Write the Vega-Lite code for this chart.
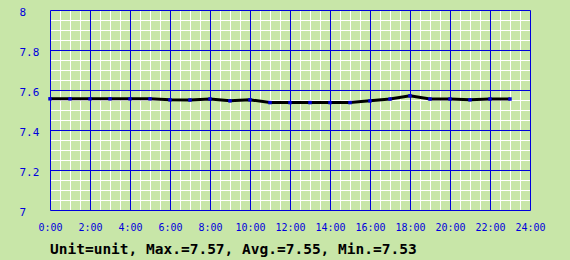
{
  "$schema": "https://vega.github.io/schema/vega-lite/v6.json",
  "width": 480,
  "height": 200,
  "autosize": {"type": "none"},
  "padding": {"left": 50, "top": 10, "right": 40, "bottom": 50},
  "background": "#c8e6a8",
  "config": {"view": {"stroke": null, "fill": "#c8e6a8"}},
  "title": {
    "text": "Unit=unit, Max.=7.57, Avg.=7.55, Min.=7.53",
    "orient": "bottom",
    "anchor": "start",
    "font": "DejaVu Sans Mono",
    "fontSize": 14.5,
    "fontWeight": "bold",
    "color": "#000000",
    "offset": 11,
    "frame": "group"
  },
  "data": {
    "values": [
      {"h": 0, "v": 7.556}, {"h": 1, "v": 7.556}, {"h": 2, "v": 7.556}, {"h": 3, "v": 7.556},
      {"h": 4, "v": 7.556}, {"h": 5, "v": 7.556}, {"h": 6, "v": 7.551}, {"h": 7, "v": 7.55},
      {"h": 8, "v": 7.555}, {"h": 9, "v": 7.546}, {"h": 10, "v": 7.551}, {"h": 11, "v": 7.537},
      {"h": 12, "v": 7.537}, {"h": 13, "v": 7.537}, {"h": 14, "v": 7.537}, {"h": 15, "v": 7.537},
      {"h": 16, "v": 7.546}, {"h": 17, "v": 7.555}, {"h": 18, "v": 7.571}, {"h": 19, "v": 7.555},
      {"h": 20, "v": 7.555}, {"h": 21, "v": 7.551}, {"h": 22, "v": 7.555}, {"h": 23, "v": 7.555}
    ]
  },
  "resolve": {"axis": {"x": "independent", "y": "independent"}},
  "layer": [
    {
      "mark": {"type": "line", "color": "#000000", "strokeWidth": 3, "interpolate": "linear"},
      "encoding": {
        "x": {"field": "h", "type": "quantitative", "scale": {"domain": [0, 24], "nice": false, "zero": false},
          "axis": {"orient": "bottom", "values": [0.5,1,1.5,2.5,3,3.5,4.5,5,5.5,6.5,7,7.5,8.5,9,9.5,10.5,11,11.5,12.5,13,13.5,14.5,15,15.5,16.5,17,17.5,18.5,19,19.5,20.5,21,21.5,22.5,23,23.5],
            "labels": false, "ticks": false, "domain": false, "title": null, "grid": true, "gridColor": "#ffffff", "gridOpacity": 1, "gridWidth": 1,
            "gridDash": [39, 1], "gridDashOffset": 39.5}},
        "y": {"field": "v", "type": "quantitative", "scale": {"domain": [7, 8], "nice": false, "zero": false},
          "axis": {"orient": "left", "values": [7.05,7.1,7.15,7.25,7.3,7.35,7.45,7.5,7.55,7.65,7.7,7.75,7.85,7.9,7.95],
            "labels": false, "ticks": false, "domain": false, "title": null, "grid": true, "gridColor": "#ffffff", "gridOpacity": 1, "gridWidth": 1,
            "gridDash": [39, 1], "gridDashOffset": 39.5}}
      }
    },
    {
      "mark": {"type": "point", "shape": "square", "filled": true, "size": 12, "color": "#0000dd", "opacity": 1},
      "encoding": {
        "x": {"field": "h", "type": "quantitative", "scale": {"domain": [0, 24], "nice": false, "zero": false},
          "axis": {"orient": "bottom", "values": [0,2,4,6,8,10,12,14,16,18,20,22,24],
            "labelExpr": "datum.value + ':00'", "labelFont": "DejaVu Sans Mono", "labelFontSize": 10, "labelColor": "#0000dd",
            "labelPadding": 12, "labelBaseline": "top", "labelFlush": false, "labelOverlap": false,
            "ticks": false, "domain": false, "title": null, "grid": true, "gridColor": "#0000dd", "gridOpacity": 1, "gridWidth": 1}},
        "y": {"field": "v", "type": "quantitative", "scale": {"domain": [7, 8], "nice": false, "zero": false},
          "axis": {"orient": "left", "values": [7,7.2,7.4,7.6,7.8,8],
            "labelExpr": "datum.value == 7 || datum.value == 8 ? format(datum.value, 'd') : format(datum.value, '.1f')",
            "labelFont": "DejaVu Sans Mono", "labelFontSize": 11, "labelColor": "#0000dd",
            "labelAlign": "left", "labelBaseline": "middle", "labelPadding": 31, "labelOffset": 2, "labelFlush": false, "labelOverlap": false,
            "ticks": false, "domain": false, "title": null, "grid": true, "gridColor": "#0000dd", "gridOpacity": 1, "gridWidth": 1}}
      }
    }
  ]
}
